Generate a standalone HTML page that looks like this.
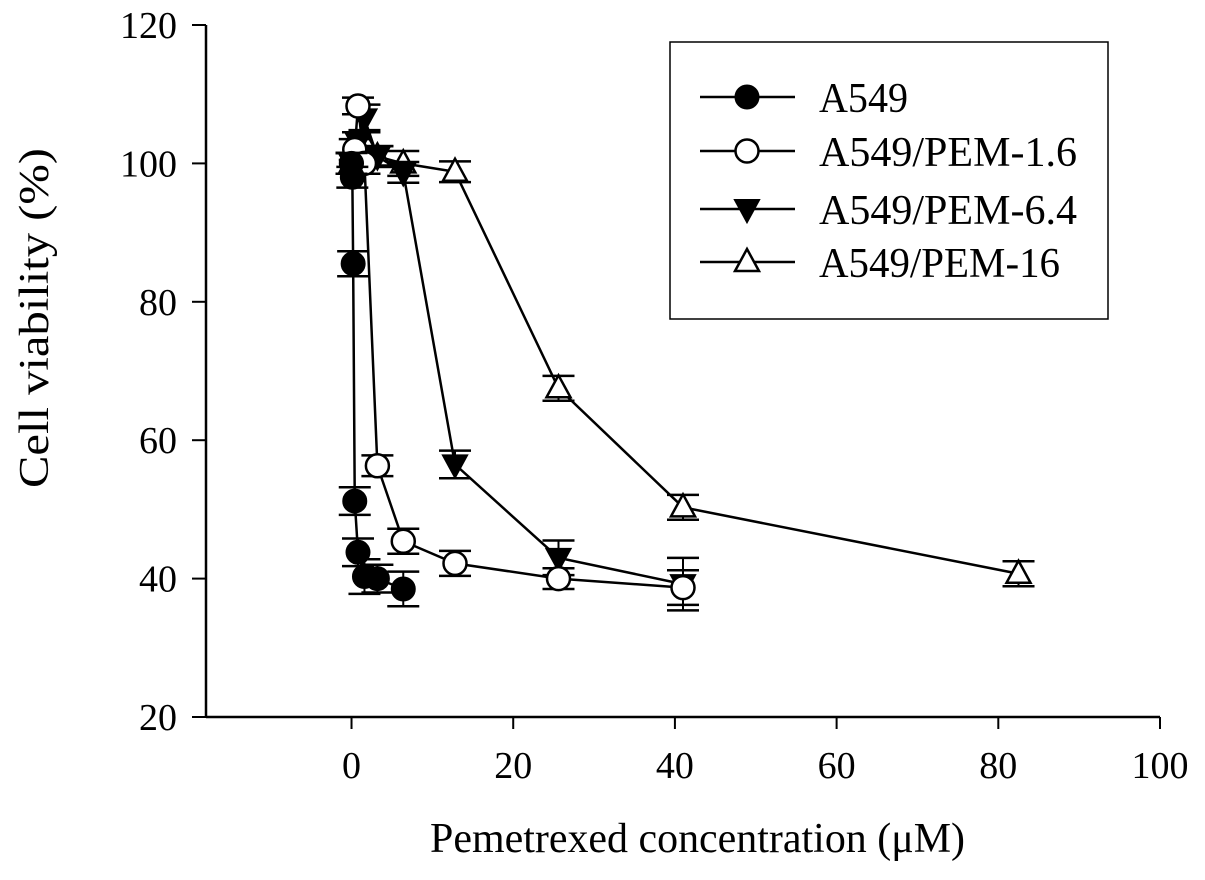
<!DOCTYPE html>
<html><head><meta charset="utf-8"><style>
html,body{margin:0;padding:0;background:#fff;}
svg text{font-family:"Liberation Serif",serif;fill:#000;}
</style></head><body>
<svg id="chart" width="1205" height="875" viewBox="0 0 1205 875" xmlns="http://www.w3.org/2000/svg">
<g id="axes"></g>
<g id="series"></g>
<g id="legend"></g>
</svg>
<script>
const xTicks=[0,20,40,60,80,100];
const yTicks=[20,40,60,80,100,120];
const seriesNames=["A549","A549/PEM-1.6","A549/PEM-6.4","A549/PEM-16"];
const a549X=[0,0.1,0.2,0.4,0.8,1.6,3.2,6.4];
const a549Y=[100,98,85.5,51.2,43.8,40.3,40,38.5];
const a549E=[1.5,1.5,1.8,2,2,2.5,2,2.5];
const pem16X=[0,0.4,0.8,1.6,3.2,6.4,12.8,25.6,41];
const pem16Y=[100,102,108.3,100,56.3,45.4,42.2,40,38.7];
const pem16E=[1.5,1.5,1.2,1.5,1.5,1.8,1.8,1.5,2.5];
const pem64X=[0,0.8,1.6,3.2,6.4,12.8,25.6,41];
const pem64Y=[100,103,106.5,101,98.7,56.5,43,39.2];
const pem64E=[1.5,1.5,2,1.5,1.5,2,2.5,3.8];
const pem160X=[0,1.6,3.2,6.4,12.8,25.6,41,82.5];
const pem160Y=[100,103,101,100,98.8,67.5,50.3,40.7];
const pem160E=[1.5,1.8,1.5,1.8,1.5,1.8,1.8,1.8];

const NS="http://www.w3.org/2000/svg";
const X0=206,X1=1160,Y0=717,Y1=25,xmin=-18,xmax=100,ymin=20,ymax=120;
const sx=v=>X0+(v-xmin)/(xmax-xmin)*(X1-X0);
const sy=v=>Y0-(v-ymin)/(ymax-ymin)*(Y0-Y1);
function mk(tag,attrs,parent){const e=document.createElementNS(NS,tag);for(const k in attrs)e.setAttribute(k,attrs[k]);parent.appendChild(e);return e;}
const axes=document.getElementById('axes');
let e=mk('line',{x1:X0,y1:Y1,x2:X0,y2:Y0,stroke:'#000','stroke-width':2.5},axes);


e=mk('line',{x1:X0,y1:Y0,x2:X1,y2:Y0,stroke:'#000','stroke-width':2.5},axes);


xTicks.forEach(t=>{
 mk('line',{x1:sx(t),y1:Y0,x2:sx(t),y2:Y0+12,stroke:'#000','stroke-width':2},axes);
 const tx=mk('text',{x:sx(t),y:778,'font-size':38,'text-anchor':'middle'},axes);tx.textContent=t;
 
 
});
yTicks.forEach(t=>{
 mk('line',{x1:X0-14,y1:sy(t),x2:X0,y2:sy(t),stroke:'#000','stroke-width':2},axes);
 const tx=mk('text',{x:177,y:sy(t)+13,'font-size':38,'text-anchor':'end'},axes);tx.textContent=t;
 
 
});
e=mk('text',{x:430,y:852,'font-size':42,textLength:535,lengthAdjust:'spacingAndGlyphs'},axes);e.textContent='Pemetrexed concentration (μM)';


e=mk('text',{x:0,y:0,'font-size':42,textLength:340,lengthAdjust:'spacingAndGlyphs',transform:'translate(48 488) rotate(-90)'},axes);e.textContent='Cell viability (%)';



function marker(type,cx,cy,p){
 if(type==0)return mk('circle',{cx,cy,r:11.5,fill:'#000',stroke:'#000','stroke-width':2},p);
 if(type==1)return mk('circle',{cx,cy,r:11.5,fill:'#fff',stroke:'#000','stroke-width':2.5},p);
 if(type==2)return mk('path',{d:`M${cx-12},${cy-9}L${cx+12},${cy-9}L${cx},${cy+13}Z`,fill:'#000',stroke:'#000','stroke-width':2},p);
 return mk('path',{d:`M${cx-12},${cy+9}L${cx+12},${cy+9}L${cx},${cy-13}Z`,fill:'#fff',stroke:'#000','stroke-width':2.5},p);
}
const S=document.getElementById('series');
const all=[[a549X,a549Y,a549E],[pem16X,pem16Y,pem16E],[pem64X,pem64Y,pem64E],[pem160X,pem160Y,pem160E]];
const order=[3,2,1,0];
order.forEach(i=>{
 const [xs,ys,es]=all[i];
 const g=mk('g',{},S);
 
 
 mk('polyline',{points:xs.map((x,j)=>sx(x)+','+sy(ys[j])).join(' '),fill:'none',stroke:'#000','stroke-width':2.5},g);
 xs.forEach((x,j)=>{
  const cx=sx(x),y=ys[j],er=es[j];
  mk('line',{x1:cx,y1:sy(y+er),x2:cx,y2:sy(y-er),stroke:'#000','stroke-width':2},g);
  mk('line',{x1:cx-16,y1:sy(y+er),x2:cx+16,y2:sy(y+er),stroke:'#000','stroke-width':2.5},g);
  mk('line',{x1:cx-16,y1:sy(y-er),x2:cx+16,y2:sy(y-er),stroke:'#000','stroke-width':2.5},g);
  const m=marker(i,cx,sy(y),g);
  
  
 });
});
const L=document.getElementById('legend');
mk('rect',{x:670,y:42,width:438,height:277,fill:'#fff',stroke:'#000','stroke-width':1.5},L);
const legRows=[97,151,209,262];
const legLens=[89,258,258,241];
seriesNames.forEach((n,i)=>{
 const y=legRows[i];
 const g=mk('g',{},L);
 
 
 mk('line',{x1:700,y1:y,x2:795,y2:y,stroke:'#000','stroke-width':2.5},g);
 marker(i,747,y,g);
 const t=mk('text',{x:819,y:y+15,'font-size':42,textLength:legLens[i],lengthAdjust:'spacingAndGlyphs'},g);t.textContent=n;
});
</script>
</body></html>
